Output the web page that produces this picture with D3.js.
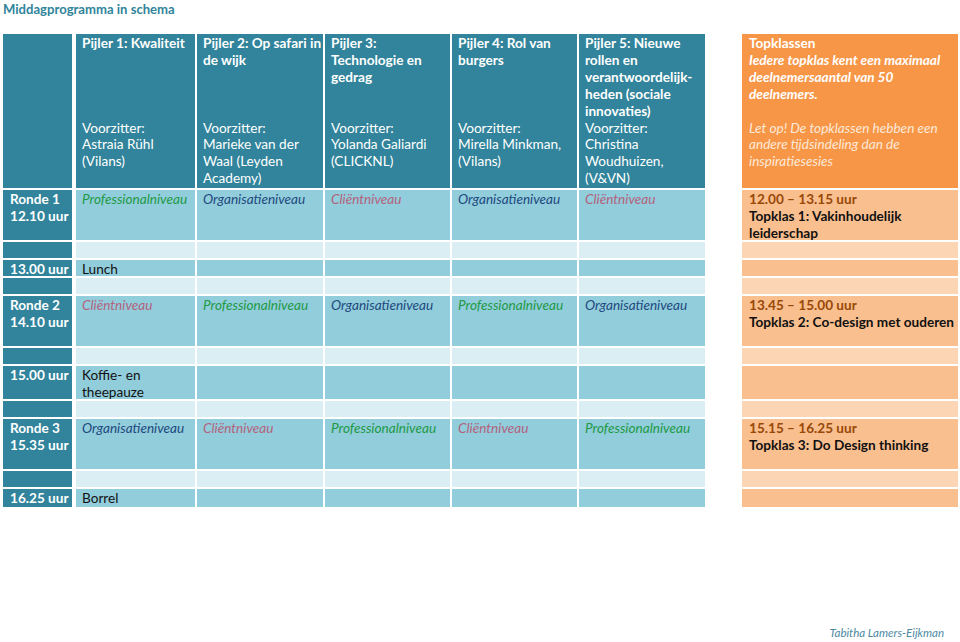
<!DOCTYPE html>
<html><head><meta charset="utf-8">
<script src="https://cdn.jsdelivr.net/npm/d3@7"></script>
<style>
body{margin:0;background:#fff}
svg{display:block}
text{font-family:Lato,"Open Sans",sans-serif}
</style>
</head><body>
<script>
// ---------- data ----------
const title = "Middagprogramma in schema";
const author = "Tabitha Lamers-Eijkman";
const pillarTitles = [
  ["Pijler 1: Kwaliteit"],
  ["Pijler 2: Op safari in", "de wijk"],
  ["Pijler 3:", "Technologie en", "gedrag"],
  ["Pijler 4: Rol van", "burgers"],
  ["Pijler 5: Nieuwe", "rollen en", "verantwoordelijk-", "heden (sociale", "innovaties)"]
];
const pillarChairs = [
  ["Voorzitter:", "Astraia Rühl", "(Vilans)"],
  ["Voorzitter:", "Marieke van der", "Waal (Leyden", "Academy)"],
  ["Voorzitter:", "Yolanda Galiardi", "(CLICKNL)"],
  ["Voorzitter:", "Mirella Minkman,", "(Vilans)"],
  ["Voorzitter:", "Christina", "Woudhuizen,", "(V&VN)"]
];
const topHeaderTitle = "Topklassen";
const topHeaderNote = ["Iedere topklas kent een maximaal", "deelnemersaantal van 50", "deelnemers."];
const topHeaderWarning = ["Let op! De topklassen hebben een", "andere tijdsindeling dan de", "inspiratiesesies"];

const rowKinds = ["header", "round", "spacer", "break", "spacer", "round", "spacer", "break", "spacer", "round", "spacer", "break"];
const roundLabels = [["Ronde 1", "12.10 uur"], ["Ronde 2", "14.10 uur"], ["Ronde 3", "15.35 uur"]];
const levels = ["Professionalniveau", "Organisatieniveau", "Cliëntniveau"];
const roundLevels = [
  ["Professionalniveau", "Organisatieniveau", "Cliëntniveau", "Organisatieniveau", "Cliëntniveau"],
  ["Cliëntniveau", "Professionalniveau", "Organisatieniveau", "Professionalniveau", "Organisatieniveau"],
  ["Organisatieniveau", "Cliëntniveau", "Professionalniveau", "Cliëntniveau", "Professionalniveau"]
];
const topTimes = ["12.00 – 13.15 uur", "13.45 – 15.00 uur", "15.15 – 16.25 uur"];
const topNames = [["Topklas 1: Vakinhoudelijk", "leiderschap"], ["Topklas 2: Co-design met ouderen"], ["Topklas 3: Do Design thinking"]];
const breakTimes = ["13.00 uur", "15.00 uur", "16.25 uur"];
const breakLabels = [["Lunch"], ["Koffie- en", "theepauze"], ["Borrel"]];

// ---------- layout ----------
const W = 960, H = 642;
const FS = 13.6, LH = 16.9;
const colWidths = [69, 119, 126, 125, 125, 126, 216];
const colGaps = [0, 4, 2, 2, 2, 2, 37];
const x0 = 3;
const colX = [];
{ let x = x0; colWidths.forEach((w, i) => { x += colGaps[i]; colX.push(x); x += w; }); }
const kindHeight = {header: 154, round: 50, spacer: 16};
const breakHeights = [16, 33, 18];
const rowGap = 2, y0 = 34;
const rows = [];
{
  let y = y0, r = 0, b = 0;
  rowKinds.forEach(k => {
    const row = {kind: k, y};
    if (k === "round") row.idx = r++;
    if (k === "break") row.idx = b++;
    row.h = k === "break" ? breakHeights[row.idx] : kindHeight[k];
    rows.push(row);
    y += row.h + rowGap;
  });
}

const C = {
  dark: "#31849B", mid: "#92CDDC", light: "#DAEEF3",
  oHead: "#F79646", oMid: "#FABF8F", oLight: "#FCD5B4"
};
const levelColor = d3.scaleOrdinal().domain(levels).range(["#1E9A45", "#1F497D", "#B3637C"]);

const svg = d3.select("body").append("svg").attr("width", W).attr("height", H);

// title
svg.append("text").attr("x", 3).attr("y", 14).text(title)
  .attr("font-weight", "bold").attr("font-size", 13.1).attr("fill", C.dark);

// cells
function fillFor(kind, ci) {
  if (ci === 0) return C.dark;
  if (kind === "header") return ci === 6 ? C.oHead : C.dark;
  if (kind === "spacer") return ci === 6 ? C.oLight : C.light;
  return ci === 6 ? C.oMid : C.mid;
}
const cells = [];
rows.forEach(r => colX.forEach((x, ci) => cells.push({r, ci, x, w: colWidths[ci]})));
svg.append("g").selectAll("rect").data(cells).join("rect")
  .attr("x", d => d.x).attr("y", d => d.r.y).attr("width", d => d.w).attr("height", d => d.r.h)
  .attr("fill", d => fillFor(d.r.kind, d.ci));

// text helper
function lines(g, x, y, arr, opts) {
  const t = g.append("text").attr("font-size", opts.size || FS)
    .attr("fill", opts.fill).attr("font-weight", opts.bold ? "bold" : "normal")
    .attr("font-style", opts.italic ? "italic" : "normal");
  arr.forEach((s, i) => t.append("tspan").attr("x", x).attr("y", y + i * LH).text(s));
}
const padX = 6, base = 14;
const tg = svg.append("g");

const hdr = rows[0];
pillarTitles.forEach((arr, i) => {
  const x = colX[i + 1] + padX;
  lines(tg, x, hdr.y + base, arr, {fill: "#fff", bold: true});
  lines(tg, x, hdr.y + base + 5 * LH, pillarChairs[i], {fill: "#fff"});
});
{
  const x = colX[6] + 7;
  lines(tg, x, hdr.y + base, [topHeaderTitle], {fill: "#fff", bold: true});
  lines(tg, x, hdr.y + base + LH, topHeaderNote, {fill: "#fff", bold: true, italic: true});
  lines(tg, x, hdr.y + base + 5 * LH, topHeaderWarning, {fill: "#FDE9D9", italic: true});
}

rows.forEach(r => {
  if (r.kind === "round") {
    lines(tg, colX[0] + 7, r.y + base, roundLabels[r.idx], {fill: "#fff", bold: true});
    roundLevels[r.idx].forEach((lv, i) => {
      lines(tg, colX[i + 1] + padX, r.y + base, [lv], {fill: levelColor(lv), italic: true});
    });
    lines(tg, colX[6] + 7, r.y + base, [topTimes[r.idx]], {fill: "#984807", bold: true});
    lines(tg, colX[6] + 7, r.y + base + LH, topNames[r.idx], {fill: "#111", bold: true});
  } else if (r.kind === "break") {
    lines(tg, colX[0] + 7, r.y + base, [breakTimes[r.idx]], {fill: "#fff", bold: true});
    lines(tg, colX[1] + padX, r.y + base, breakLabels[r.idx], {fill: "#111"});
  }
});

// author
svg.append("text").attr("x", 944).attr("y", 637).attr("text-anchor", "end")
  .attr("font-size", 11.5).attr("font-style", "italic").attr("fill", "#4C8AA3").text(author);
</script>
</body></html>
